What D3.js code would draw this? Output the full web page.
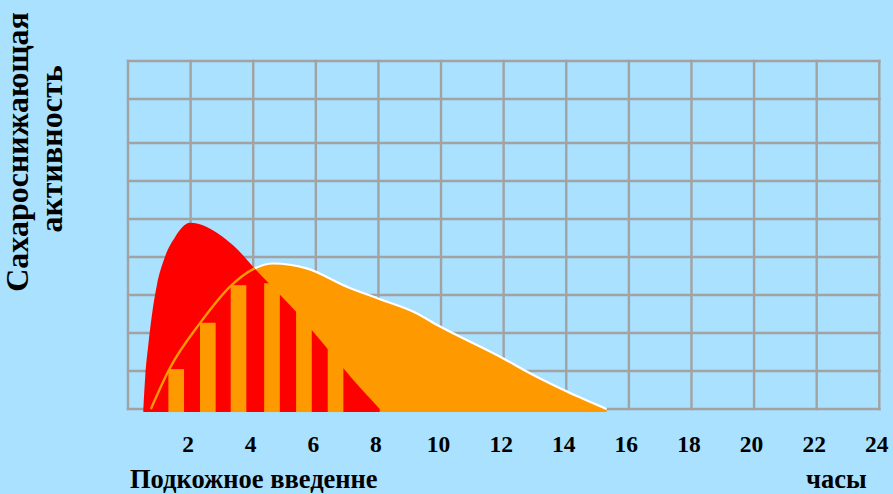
<!DOCTYPE html>
<html>
<head>
<meta charset="utf-8">
<script src="https://cdn.jsdelivr.net/npm/d3@7/dist/d3.min.js"></script>
<style>
  html, body { margin: 0; padding: 0; background: #A9E1FF; }
  svg { display: block; }
  text { font-family: "Liberation Serif", "Times New Roman", serif; font-weight: bold; fill: #000; }
</style>
</head>
<body>
<svg id="chart" width="893" height="494"></svg>
<script>
// Time axis (hours) and activity grid levels
const hourTicks = [2, 4, 6, 8, 10, 12, 14, 16, 18, 20, 22, 24];
const gridHours = [0, 2, 4, 6, 8, 10, 12, 14, 16, 18, 20, 22, 24];
const gridLevels = [0, 1, 2, 3, 4, 5, 6, 7, 8.16, 9.16];

// Short-acting insulin profile (red)
const shortHours  = [0.49, 0.55, 0.65, 0.76, 0.92, 1.18, 1.50, 1.98, 2.50, 3.00, 3.50, 4.00, 4.83, 5.37, 5.87, 6.38, 6.88, 8.04];
const shortLevels = [0.00, 0.85, 1.70, 2.45, 3.25, 4.00, 4.52, 4.90, 4.80, 4.55, 4.20, 3.74, 3.03, 2.56, 2.08, 1.58, 1.07, 0.00];

// Intermediate-acting insulin profile (orange)
const longHours  = [0.73, 1.34, 2.30, 3.31, 4.00, 4.64, 5.71, 6.99, 8.05, 9.12, 9.97, 11.99, 12.84, 14.02, 15.29];
const longLevels = [0.00, 1.08, 2.26, 3.26, 3.68, 3.83, 3.70, 3.22, 2.89, 2.56, 2.17, 1.33, 0.94, 0.46, 0.00];

// Hatched overlap columns
const barStarts = [1.29, 2.30, 3.28, 4.35, 5.37, 6.38];
const barLevels = [1.05, 2.27, 3.26, 3.31, 3.00, 2.60];
const barWidth = 0.5;

const floorLevel = -0.08;

const svg = d3.select("#chart");
const x = d3.scaleLinear().domain([0, 24]).range([128, 879.3]);
const y = d3.scaleLinear().domain([0, 9.16]).range([409, 61]);

const RED = "#FF0000", ORANGE = "#FF9900", GRID = "#A2A2A2";

// grid
const grid = svg.append("g");
grid.selectAll("line.v").data(gridHours).join("line")
  .attr("x1", d => x(d)).attr("x2", d => x(d))
  .attr("y1", y(0) + 1.2).attr("y2", y(9.16) - 1.2)
  .attr("stroke", GRID).attr("stroke-width", 2.4);
grid.selectAll("line.h").data(gridLevels).join("line")
  .attr("x1", x(0) - 1.2).attr("x2", x(24) + 1.2)
  .attr("y1", d => y(d)).attr("y2", d => y(d))
  .attr("stroke", GRID).attr("stroke-width", 2.4);

const shortData = shortHours.map((h, i) => ({ h, v: shortLevels[i] }));
const longData = longHours.map((h, i) => ({ h, v: longLevels[i] }));

const area = d3.area().curve(d3.curveMonotoneX)
  .x(d => x(d.h)).y0(y(floorLevel)).y1(d => y(Math.max(d.v, floorLevel)));
const line = d3.line().curve(d3.curveMonotoneX)
  .x(d => x(d.h)).y(d => y(d.v));

// orange area with white rim
svg.append("path").attr("d", area(longData)).attr("fill", ORANGE);
svg.append("path").attr("d", line(longData.slice(1)))
  .attr("fill", "none").attr("stroke", "#FFFFFF").attr("stroke-width", 2.2);

// red area on top
svg.append("defs").append("clipPath").attr("id", "shortClip")
  .append("path").attr("d", area(shortData));
svg.append("path").attr("d", area(shortData)).attr("fill", RED);

// orange columns through the overlap
svg.append("g").selectAll("rect").data(barStarts).join("rect")
  .attr("x", d => x(d))
  .attr("width", x(barWidth) - x(0))
  .attr("y", (d, i) => y(barLevels[i]))
  .attr("height", (d, i) => y(floorLevel) - y(barLevels[i]))
  .attr("fill", ORANGE);

// orange profile line where it passes over the red area
svg.append("path").attr("d", line(longData))
  .attr("clip-path", "url(#shortClip)")
  .attr("fill", "none").attr("stroke", ORANGE).attr("stroke-width", 2.4);

// hour labels
const axis = d3.axisBottom(x).tickValues(hourTicks).tickSize(0).tickPadding(0).tickFormat(d3.format("d"));
const ax = svg.append("g").attr("transform", "translate(-3,452)").call(axis);
ax.select(".domain").remove();
ax.selectAll("text").attr("dy", 0).attr("y", 0)
  .style("font-size", "23.5px").style("font-family", "'Liberation Serif', serif")
  .style("font-weight", "bold").attr("fill", "#000");

// axis titles
svg.append("text").attr("x", 130).attr("y", 488).style("font-size", "26.5px").text("Подкожное введенне");
svg.append("text").attr("x", 806).attr("y", 488).style("font-size", "26.5px").text("часы");
svg.append("text").attr("transform", "translate(28,152) rotate(-90)")
  .attr("text-anchor", "middle").style("font-size", "32px").text("Сахароснижающая");
svg.append("text").attr("transform", "translate(62,149) rotate(-90)")
  .attr("text-anchor", "middle").style("font-size", "32px").text("активность");
</script>
</body>
</html>
